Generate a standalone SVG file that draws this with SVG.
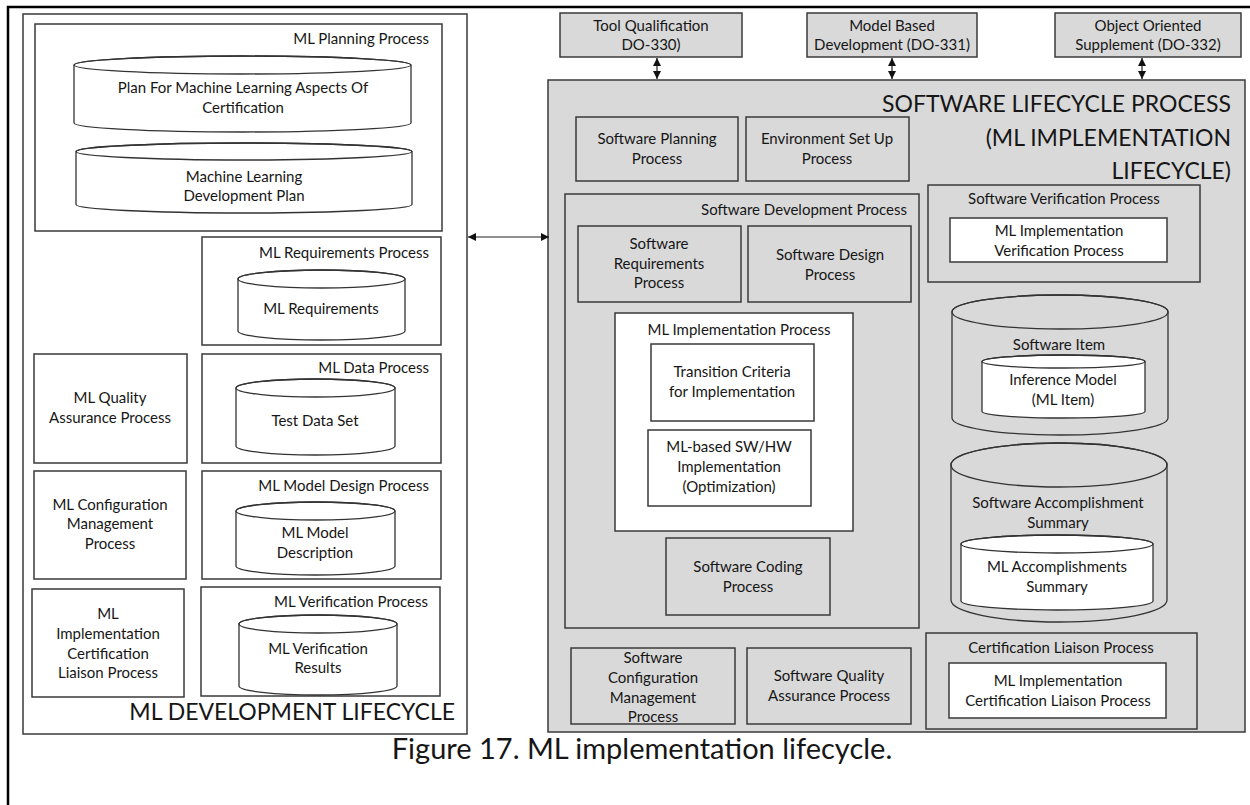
<svg xmlns="http://www.w3.org/2000/svg" width="1250" height="805" viewBox="0 0 1250 805">
  <defs>
    <style>
      .t { font-family: Lato, "Open Sans", "Liberation Sans", sans-serif; font-size: 15px; fill: #161616; }
      .c { text-anchor: middle; }
      .r { text-anchor: end; }
      .big { font-size: 23px; }
      .cap { font-size: 29px; }
      .box { fill: #ffffff; stroke: #3a3a3a; stroke-width: 1.5; }
      .gbox { fill: #d9d9d9; stroke: #3a3a3a; stroke-width: 1.5; }
      .frame { fill: none; stroke: #000000; stroke-width: 2.5; }
      .cyl { fill: #ffffff; stroke: #333333; stroke-width: 1.3; }
      .gcyl { fill: #d9d9d9; stroke: #333333; stroke-width: 1.3; }
      .lid { fill: none; stroke: #333333; stroke-width: 1.3; }
      .link { fill: none; stroke: #222222; stroke-width: 1.2; }
    </style>
    <marker id="head" viewBox="0 0 10 10" refX="10" refY="5" markerUnits="userSpaceOnUse" markerWidth="8" markerHeight="8" orient="auto-start-reverse">
      <path d="M0,0 L10,5 L0,10 Z" fill="#111111"/>
    </marker>
  </defs>

  <rect width="1250" height="805" fill="#ffffff"/>

  <!-- page frame: top and left rules only -->
  <path class="frame" d="M8,805 V7 H1250"/>

  <!-- ===== ML development lifecycle (left) ===== -->
  <g id="ml-development-lifecycle">
    <rect class="box" x="23" y="14" width="444" height="720"/>
    <text class="t big r" x="455" y="720">ML DEVELOPMENT LIFECYCLE</text>
  </g>

  <g id="ml-planning-process">
    <rect class="box" x="35" y="24" width="407" height="207"/>
    <text class="t r" x="429" y="44">ML Planning Process</text>
    <g id="plan-ml-certification">
      <path class="cyl" d="M74,65 V123 A168.5,9 0 0 0 411,123 V65 A168.5,9 0 0 0 74,65 Z"/>
      <ellipse class="lid" cx="242.5" cy="65" rx="168.5" ry="9"/>
      <text class="t c" x="243" y="93">Plan For Machine Learning Aspects Of</text>
      <text class="t c" x="243" y="113">Certification</text>
    </g>
    <g id="ml-development-plan">
      <path class="cyl" d="M76,151.5 V204.5 A168,8.5 0 0 0 412,204.5 V151.5 A168,8.5 0 0 0 76,151.5 Z"/>
      <ellipse class="lid" cx="244" cy="151.5" rx="168" ry="8.5"/>
      <text class="t c" x="244" y="182">Machine Learning</text>
      <text class="t c" x="244" y="201">Development Plan</text>
    </g>
  </g>

  <g id="ml-requirements-process">
    <rect class="box" x="202" y="237" width="239" height="108"/>
    <text class="t r" x="429" y="258">ML Requirements Process</text>
    <path class="cyl" d="M238,279 V331 A83.5,9 0 0 0 405,331 V279 A83.5,9 0 0 0 238,279 Z"/>
    <ellipse class="lid" cx="321.5" cy="279" rx="83.5" ry="9"/>
    <text class="t c" x="321" y="314">ML Requirements</text>
  </g>

  <g id="ml-quality-assurance-process">
    <rect class="box" x="34" y="354" width="153" height="109"/>
    <text class="t c" x="110" y="403">ML Quality</text>
    <text class="t c" x="110" y="423">Assurance Process</text>
  </g>

  <g id="ml-data-process">
    <rect class="box" x="202" y="354" width="239" height="109"/>
    <text class="t r" x="429" y="373">ML Data Process</text>
    <path class="cyl" d="M236,388 V446 A79.5,9 0 0 0 395,446 V388 A79.5,9 0 0 0 236,388 Z"/>
    <ellipse class="lid" cx="315.5" cy="388" rx="79.5" ry="9"/>
    <text class="t c" x="315" y="426">Test Data Set</text>
  </g>

  <g id="ml-configuration-management-process">
    <rect class="box" x="34" y="471" width="152" height="108"/>
    <text class="t c" x="110" y="510">ML Configuration</text>
    <text class="t c" x="110" y="529">Management</text>
    <text class="t c" x="110" y="549">Process</text>
  </g>

  <g id="ml-model-design-process">
    <rect class="box" x="202" y="471" width="239" height="108"/>
    <text class="t r" x="429" y="491">ML Model Design Process</text>
    <path class="cyl" d="M236,511 V566 A79.5,9 0 0 0 395,566 V511 A79.5,9 0 0 0 236,511 Z"/>
    <ellipse class="lid" cx="315.5" cy="511" rx="79.5" ry="9"/>
    <text class="t c" x="315" y="538">ML Model</text>
    <text class="t c" x="315" y="558">Description</text>
  </g>

  <g id="ml-certification-liaison-process">
    <rect class="box" x="32" y="589" width="152" height="108"/>
    <text class="t c" x="108" y="619">ML</text>
    <text class="t c" x="108" y="639">Implementation</text>
    <text class="t c" x="108" y="659">Certification</text>
    <text class="t c" x="108" y="678">Liaison Process</text>
  </g>

  <g id="ml-verification-process">
    <rect class="box" x="201" y="587" width="239" height="109"/>
    <text class="t r" x="428" y="607">ML Verification Process</text>
    <path class="cyl" d="M239,624 V686 A79,9 0 0 0 397,686 V624 A79,9 0 0 0 239,624 Z"/>
    <ellipse class="lid" cx="318" cy="624" rx="79" ry="9"/>
    <text class="t c" x="318" y="654">ML Verification</text>
    <text class="t c" x="318" y="673">Results</text>
  </g>

  <!-- ===== supplements ===== -->
  <g id="tool-qualification">
    <rect class="gbox" x="560" y="13" width="182" height="44"/>
    <text class="t c" x="651" y="31">Tool Qualification</text>
    <text class="t c" x="651" y="50">DO-330)</text>
  </g>
  <g id="model-based-development">
    <rect class="gbox" x="807" y="13" width="170" height="44"/>
    <text class="t c" x="892" y="31">Model Based</text>
    <text class="t c" x="892" y="50">Development (DO-331)</text>
  </g>
  <g id="object-oriented-supplement">
    <rect class="gbox" x="1055" y="13" width="186" height="44"/>
    <text class="t c" x="1148" y="31">Object Oriented</text>
    <text class="t c" x="1148" y="50">Supplement (DO-332)</text>
  </g>

  <!-- ===== software lifecycle process (right) ===== -->
  <g id="software-lifecycle-process">
    <rect class="gbox" x="548" y="80" width="697" height="652"/>
    <text class="t big r" x="1231" y="112">SOFTWARE LIFECYCLE PROCESS</text>
    <text class="t big r" x="1231" y="146">(ML IMPLEMENTATION</text>
    <text class="t big r" x="1231" y="179">LIFECYCLE)</text>
  </g>

  <g id="software-planning-process">
    <rect class="gbox" x="576" y="117" width="162" height="64"/>
    <text class="t c" x="657" y="144">Software Planning</text>
    <text class="t c" x="657" y="164">Process</text>
  </g>

  <g id="environment-set-up-process">
    <rect class="gbox" x="746" y="117" width="163" height="64"/>
    <text class="t c" x="827" y="144">Environment Set Up</text>
    <text class="t c" x="827" y="164">Process</text>
  </g>

  <g id="software-development-process">
    <rect class="gbox" x="565" y="194" width="354" height="434"/>
    <text class="t r" x="907" y="215">Software Development Process</text>
  </g>

  <g id="software-requirements-process">
    <rect class="gbox" x="578" y="226" width="163" height="76"/>
    <text class="t c" x="659" y="249">Software</text>
    <text class="t c" x="659" y="269">Requirements</text>
    <text class="t c" x="659" y="288">Process</text>
  </g>

  <g id="software-design-process">
    <rect class="gbox" x="748" y="226" width="163" height="76"/>
    <text class="t c" x="830" y="260">Software Design</text>
    <text class="t c" x="830" y="280">Process</text>
  </g>

  <g id="ml-implementation-process">
    <rect class="box" x="615" y="313" width="238" height="218"/>
    <text class="t c" x="739" y="335">ML Implementation Process</text>
  </g>

  <g id="transition-criteria">
    <rect class="box" x="651" y="344" width="163" height="77"/>
    <text class="t c" x="732" y="377">Transition Criteria</text>
    <text class="t c" x="732" y="397">for Implementation</text>
  </g>

  <g id="ml-based-implementation">
    <rect class="box" x="648" y="430" width="163" height="76"/>
    <text class="t c" x="729" y="452">ML-based SW/HW</text>
    <text class="t c" x="729" y="472">Implementation</text>
    <text class="t c" x="729" y="492">(Optimization)</text>
  </g>

  <g id="software-coding-process">
    <rect class="gbox" x="666" y="538" width="164" height="77"/>
    <text class="t c" x="748" y="572">Software Coding</text>
    <text class="t c" x="748" y="592">Process</text>
  </g>

  <g id="software-verification-process">
    <rect class="gbox" x="928" y="185" width="272" height="97"/>
    <text class="t c" x="1064" y="204">Software Verification Process</text>
    <rect class="box" x="950" y="218" width="217" height="44"/>
    <text class="t c" x="1059" y="236">ML Implementation</text>
    <text class="t c" x="1059" y="256">Verification Process</text>
  </g>

  <g id="software-item">
    <path class="gcyl" d="M952,312 V418 A108,17 0 0 0 1168,418 V312 A108,17 0 0 0 952,312 Z"/>
    <ellipse class="lid" cx="1060" cy="312" rx="108" ry="17"/>
    <text class="t c" x="1059" y="350">Software Item</text>
    <g id="inference-model">
      <path class="cyl" d="M982,361.5 V411.5 A81.5,6.5 0 0 0 1145,411.5 V361.5 A81.5,6.5 0 0 0 982,361.5 Z"/>
      <ellipse class="lid" cx="1063.5" cy="361.5" rx="81.5" ry="6.5"/>
      <text class="t c" x="1063" y="385">Inference Model</text>
      <text class="t c" x="1063" y="405">(ML Item)</text>
    </g>
  </g>

  <g id="software-accomplishment-summary">
    <path class="gcyl" d="M951,465 V600 A108,22 0 0 0 1167,600 V465 A108,22 0 0 0 951,465 Z"/>
    <ellipse class="lid" cx="1059" cy="465" rx="108" ry="22"/>
    <text class="t c" x="1058" y="508">Software Accomplishment</text>
    <text class="t c" x="1058" y="528">Summary</text>
    <g id="ml-accomplishments-summary">
      <path class="cyl" d="M961,544 V601 A96,9 0 0 0 1153,601 V544 A96,9 0 0 0 961,544 Z"/>
      <ellipse class="lid" cx="1057" cy="544" rx="96" ry="9"/>
      <text class="t c" x="1057" y="572">ML Accomplishments</text>
      <text class="t c" x="1057" y="592">Summary</text>
    </g>
  </g>

  <g id="software-configuration-management-process">
    <rect class="gbox" x="571" y="648" width="164" height="76"/>
    <text class="t c" x="653" y="663">Software</text>
    <text class="t c" x="653" y="683">Configuration</text>
    <text class="t c" x="653" y="703">Management</text>
    <text class="t c" x="653" y="722">Process</text>
  </g>

  <g id="software-quality-assurance-process">
    <rect class="gbox" x="747" y="648" width="164" height="76"/>
    <text class="t c" x="829" y="681">Software Quality</text>
    <text class="t c" x="829" y="701">Assurance Process</text>
  </g>

  <g id="certification-liaison-process">
    <rect class="gbox" x="926" y="633" width="271" height="96"/>
    <text class="t c" x="1061" y="653">Certification Liaison Process</text>
    <rect class="box" x="949" y="663" width="217" height="55"/>
    <text class="t c" x="1058" y="686">ML Implementation</text>
    <text class="t c" x="1058" y="706">Certification Liaison Process</text>
  </g>

  <!-- ===== connectors ===== -->
  <g id="connectors">
    <line class="link" x1="468" y1="237" x2="549" y2="237" marker-start="url(#head)" marker-end="url(#head)"/>
    <line class="link" x1="657" y1="58" x2="657" y2="79" marker-start="url(#head)" marker-end="url(#head)"/>
    <line class="link" x1="892" y1="58" x2="892" y2="79" marker-start="url(#head)" marker-end="url(#head)"/>
    <line class="link" x1="1142" y1="58" x2="1142" y2="79" marker-start="url(#head)" marker-end="url(#head)"/>
  </g>

  <text class="t cap c" x="642" y="759">Figure 17. ML implementation lifecycle.</text>
</svg>
